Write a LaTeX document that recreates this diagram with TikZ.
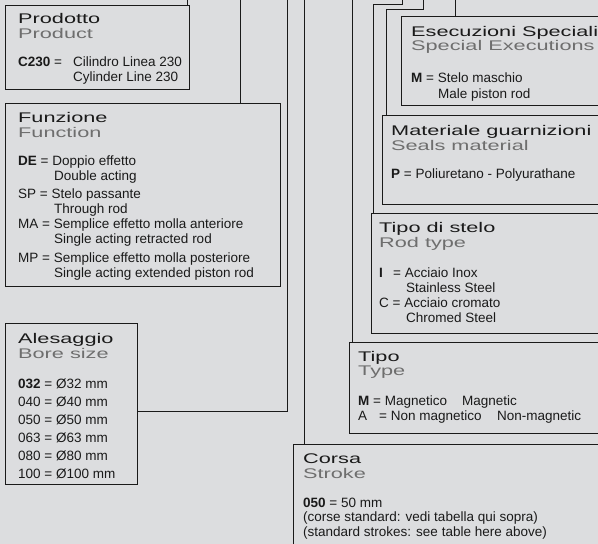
\documentclass[tikz,border=0pt]{standalone}
\usepackage{fontspec}
\setmainfont{Liberation Sans}
\newfontfamily\ttlfont[FakeStretch=1.55]{Liberation Sans}
\usetikzlibrary{calc}
\definecolor{bg}{HTML}{DCDDDF}
\definecolor{subgray}{HTML}{6E6E6E}
\definecolor{ink}{HTML}{1A1A1A}
\begin{document}
\begin{tikzpicture}[x=1pt,y=-1pt,
  box/.style={draw=ink, fill=bg, line width=1pt, inner sep=0pt, anchor=north west},
  conn/.style={draw=ink, line width=1pt},
  ttl/.style={anchor=base west, inner sep=0pt, text=ink, font=\ttlfont\fontsize{14}{14}\selectfont},
  sub/.style={anchor=base west, inner sep=0pt, text=subgray, font=\ttlfont\fontsize{14}{14}\selectfont},
  txt/.style={anchor=base west, inner sep=0pt, text=ink, font=\fontsize{13.5}{13.5}\selectfont}]
\useasboundingbox (0,0) rectangle (598,544);
\fill[bg] (0,0) rectangle (598,544);
\clip (0,0) rectangle (598,544);
% free ends at the top edge
\coordinate (cP) at (187,0);
\coordinate (cF) at (240,0);
\coordinate (cA) at (287,0);
\coordinate (cC) at (304,0);
\coordinate (cT) at (352,0);
\coordinate (cS) at (402,0);
\coordinate (cM) at (423,0);
\coordinate (cE) at (455,0);
% boxes
\node[box, minimum width=184pt, minimum height=84pt] (prod) at (5,5) {};
\node[box, minimum width=275pt, minimum height=183pt] (func) at (5,103) {};
\node[box, minimum width=132pt, minimum height=161pt] (ales) at (5,323) {};
\node[box, minimum width=230pt, minimum height=89pt] (esec) at (401,16) {};
\node[box, minimum width=240pt, minimum height=89pt] (mat) at (382,115) {};
\node[box, minimum width=250pt, minimum height=120pt] (stelo) at (371,213) {};
\node[box, minimum width=270pt, minimum height=91pt] (tipo) at (349,342) {};
\node[box, minimum width=330pt, minimum height=130pt] (corsa) at (293,444) {};
% connectors
\draw[conn] (prod.north -| cP) -- (cP);
\draw[conn] (func.north -| cF) -- (cF);
\draw[conn] (ales.east |- 0,411) -| (cA);
\draw[conn] (corsa.north -| cC) -- (cC);
\draw[conn] (tipo.north -| cT) -- (cT);
\draw[conn] (stelo.north -| 373,0) |- (402,4) -- (cS);
\draw[conn] (mat.north -| 386,0) |- (423,9) -- (cM);
\draw[conn] (esec.north -| cE) -- (cE);
% Product
\node[ttl] (p1) at (18,23) {Prodotto};
\node[sub] (p2) at (18,38) {Product};
\node[txt] (p3) at (18,66) {\textbf{C230} =};
\node[txt] (p4) at (73,66) {Cilindro Linea 230};
\node[txt] (p5) at (73,81) {Cylinder Line 230};
% Function
\node[ttl] (f1) at (18,122) {Funzione};
\node[sub] (f2) at (18,137) {Function};
\node[txt] (f3) at (18,165) {\textbf{DE} = Doppio effetto};
\node[txt] (f4) at (54,180) {Double acting};
\node[txt] (f5) at (18,198) {SP = Stelo passante};
\node[txt] (f6) at (54,213) {Through rod};
\node[txt] (f7) at (18,228) {MA = Semplice effetto molla anteriore};
\node[txt] (f8) at (54,243) {Single acting retracted rod};
\node[txt] (f9) at (18,262) {MP = Semplice effetto molla posteriore};
\node[txt] (f10) at (54,277) {Single acting extended piston rod};
% Bore
\node[ttl] (a1) at (18,343) {Alesaggio};
\node[sub] (a2) at (18,358) {Bore size};
\node[txt] (a3) at (18,388) {\textbf{032} = Ø32 mm};
\node[txt] (a4) at (18,406) {040 = Ø40 mm};
\node[txt] (a5) at (18,424) {050 = Ø50 mm};
\node[txt] (a6) at (18,442) {063 = Ø63 mm};
\node[txt] (a7) at (18,460) {080 = Ø80 mm};
\node[txt] (a8) at (18,478) {100 = Ø100 mm};
% Special executions
\node[ttl] (e1) at (411,36) {Esecuzioni Speciali};
\node[sub] (e2) at (411,50) {Special Executions};
\node[txt] (e3) at (411,82) {\textbf{M} = Stelo maschio};
\node[txt] (e4) at (438,98) {Male piston rod};
% Seals
\node[ttl] (m1) at (391,135) {Materiale guarnizioni};
\node[sub] (m2) at (391,150) {Seals material};
\node[txt] (m3) at (391,178) {\textbf{P} = Poliuretano - Polyurathane};
% Rod type
\node[ttl] (s1) at (379,232) {Tipo di stelo};
\node[sub] (s2) at (379,247) {Rod type};
\node[txt] (s3) at (379,277) {\textbf{I}};
\node[txt] (s4) at (393,277) {= Acciaio Inox};
\node[txt] (s5) at (406,292) {Stainless Steel};
\node[txt] (s6) at (379,307) {C = Acciaio cromato};
\node[txt] (s7) at (406,322) {Chromed Steel};
% Type
\node[ttl] (t1) at (358,361) {Tipo};
\node[sub] (t2) at (358,375) {Type};
\node[txt] (t3) at (358,405) {\textbf{M} = Magnetico};
\node[txt] (t4) at (462,405) {Magnetic};
\node[txt] (t5) at (358,420) {A};
\node[txt] (t6) at (379,420) {= Non magnetico};
\node[txt] (t7) at (497,420) {Non-magnetic};
% Stroke
\node[ttl] (c1) at (303,463) {Corsa};
\node[sub] (c2) at (303,478) {Stroke};
\node[txt] (c3) at (303,507) {\textbf{050} = 50 mm};
\node[txt] (c4) at (303,521) {(corse standard: vedi tabella qui sopra)};
\node[txt] (c5) at (303,536) {(standard strokes: see table here above)};
\end{tikzpicture}
\end{document}
